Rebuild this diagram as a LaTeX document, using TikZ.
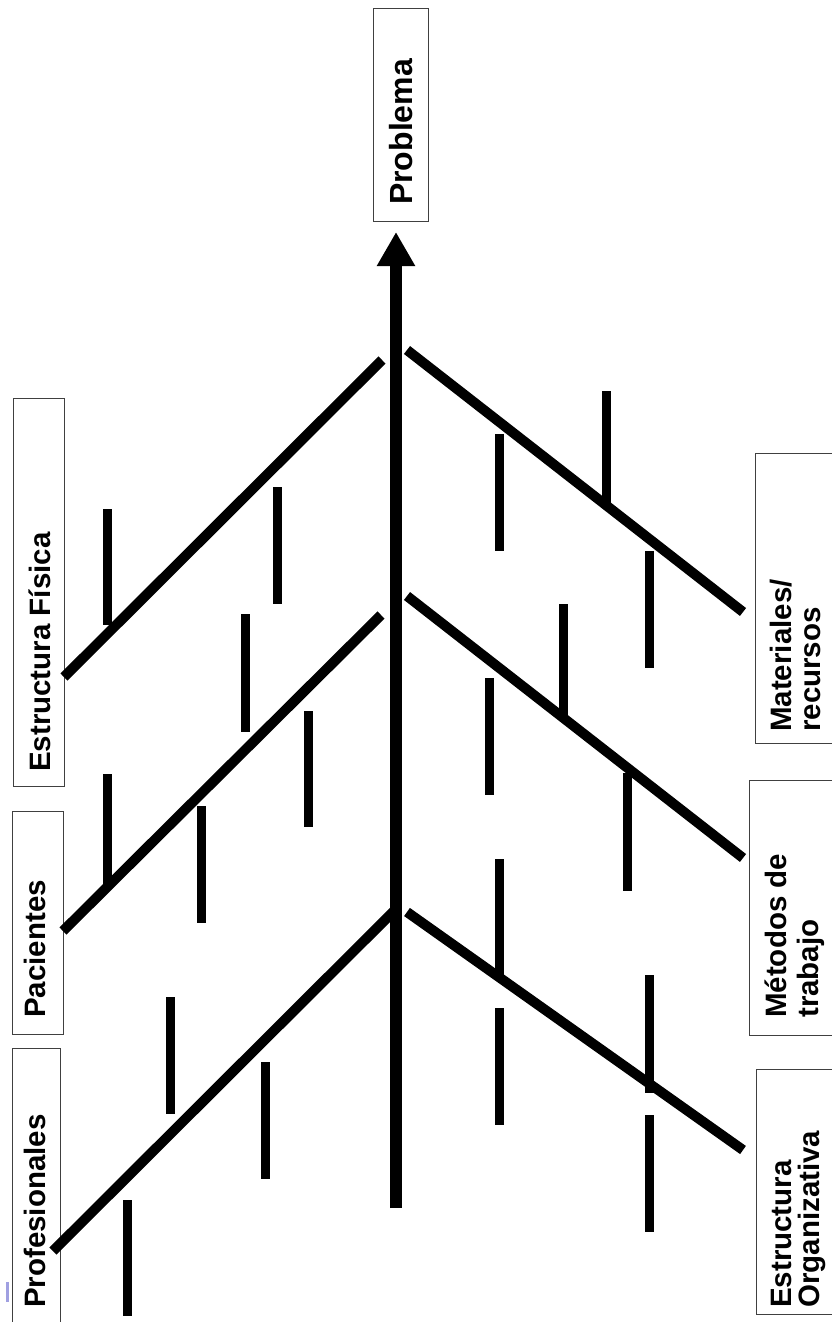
\documentclass[tikz,border=0pt]{standalone}
\usepackage{fontspec}
\setmainfont{Liberation Sans}
\usetikzlibrary{arrows.meta}
\tikzset{
  box/.style={draw=black!75, line width=0.9pt, inner sep=0pt, fill=white},
  lbl/.style={rotate=90, anchor=base west, inner sep=0pt, font=\bfseries\fontsize{29.5}{34}\selectfont},
  bone/.style={line width=10pt, black},
  tick/.style={line width=9pt, black},
  spine/.style={line width=12pt, black, -{Triangle[length=34pt,width=36pt]}}
}
\begin{document}
\begin{tikzpicture}[x=1pt,y=-1pt]
\useasboundingbox (0,0) rectangle (832,1322);
% boxes
\node[box, minimum width=55pt, minimum height=213pt] (bprob) at (400.5,114.5) {};
\node[box, minimum width=51pt, minimum height=388pt] (bfis) at (38.5,592) {};
\node[box, minimum width=51pt, minimum height=223pt] (bpac) at (37.5,922.5) {};
\node[box, minimum width=48pt, minimum height=292pt] (bpro) at (36,1194) {};
\node[box, minimum width=90pt, minimum height=290pt] (bmat) at (800,598) {};
\node[box, minimum width=96pt, minimum height=255pt] (bmet) at (797,907.5) {};
\node[box, minimum width=89pt, minimum height=245pt] (borg) at (800.5,1191.5) {};
% labels
\node[lbl, font=\bfseries\fontsize{32}{36}\selectfont] (tprob) at (412,205) {Problema};
\node[lbl] (tfis) at (50,772) {Estructura Física};
\node[lbl] (tpac) at (45,1018) {Pacientes};
\node[lbl] (tpro) at (45,1308) {Profesionales};
\node[lbl] (tmat1) at (791,732) {Materiales/};
\node[lbl] (tmat2) at (820,732) {recursos};
\node[lbl] (tmet1) at (786,1018) {Métodos de};
\node[lbl] (tmet2) at (818,1018) {trabajo};
\node[lbl] (torg1) at (791,1308) {Estructura};
\node[lbl] (torg2) at (819,1308) {Organizativa};
% spine
\coordinate (tail) at (396,1208);
\coordinate (tip) at (396,232);
\draw[spine] (tail) -- (tip);
% left bones
\draw[bone] (382,360) -- (64,677);
\draw[bone] (381,615) -- (63,931);
\draw[bone] (395,910) -- (53,1251);
% right bones
\draw[bone] (407,350) -- (743,612);
\draw[bone] (407,596) -- (743,858);
\draw[bone] (407,912) -- (743,1150);
% ticks left
\draw[tick] (107,509) -- (107,625);
\draw[tick] (277,487) -- (277,604);
\draw[tick] (245,614) -- (245,732);
\draw[tick] (308,711) -- (308,827);
\draw[tick] (107,774) -- (107,885);
\draw[tick] (201,806) -- (201,923);
\draw[tick] (170,997) -- (170,1114);
\draw[tick] (265,1062) -- (265,1179);
\draw[tick] (127,1200) -- (127,1316);
% ticks right
\draw[tick] (499,434) -- (499,551);
\draw[tick] (606,391) -- (606,505);
\draw[tick] (649,551) -- (649,668);
\draw[tick] (489,678) -- (489,795);
\draw[tick] (563,604) -- (563,720);
\draw[tick] (627,773) -- (627,891);
\draw[tick] (499,859) -- (499,975);
\draw[tick] (499,1008) -- (499,1125);
\draw[tick] (649,975) -- (649,1093);
\draw[tick] (649,1115) -- (649,1232);
% small mark
\fill[color={rgb,255:red,160;green,160;blue,225}] (6,1282) rectangle (8.5,1302);
\end{tikzpicture}
\end{document}
